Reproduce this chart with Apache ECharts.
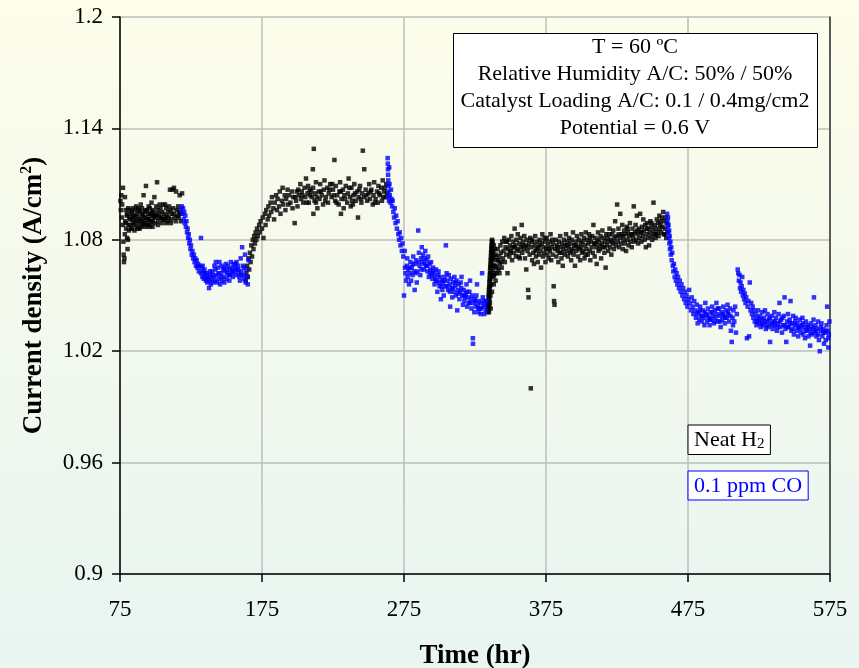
<!DOCTYPE html>
<html><head><meta charset="utf-8">
<script src="https://cdn.jsdelivr.net/npm/echarts@6/dist/echarts.min.js"></script>
<style>html,body{margin:0;padding:0;background:#fff}#chart{width:859px;height:668px}</style>
</head><body><div id="chart"></div>
<script>
// ---- DATA: [time (hr), current density (A/cm2)] ----
const h2Run1 = [[75.3,1.101],[75.6,1.096],[75.9,1.104],[76.2,1.092],[76.5,1.099],[76.8,1.088],[77.1,1.108],[77.4,1.079],[77.6,1.072],[77.8,1.068],[78.1,1.070],[78.4,1.083],[78.5,1.103],[78.7,1.090],[79.0,1.096],[79.3,1.086],[79.7,1.093],[80.0,1.081],[80.3,1.075],[80.6,1.080],[80.8,1.097],[81.2,1.085],[81.6,1.092],[82.0,1.096],[82.4,1.088],[82.8,1.094],[83.2,1.086],[83.6,1.091],[84.0,1.097],[84.4,1.089],[84.8,1.093],[85.2,1.085],[85.6,1.096],[86.0,1.090],[86.4,1.098],[86.8,1.087],[87.2,1.094],[87.6,1.097],[88.0,1.089],[88.4,1.092],[88.8,1.086],[89.2,1.095],[89.6,1.099],[90.0,1.091],[90.4,1.097],[90.8,1.088],[91.2,1.093],[91.6,1.104],[92.0,1.090],[92.4,1.095],[92.8,1.087],[93.3,1.109],[93.6,1.092],[94.0,1.096],[94.4,1.089],[94.8,1.094],[95.2,1.098],[95.6,1.091],[96.0,1.097],[96.4,1.088],[96.8,1.093],[97.2,1.100],[97.6,1.095],[98.0,1.090],[98.4,1.096],[98.8,1.092],[99.2,1.103],[99.6,1.094],[101.1,1.111],[100.5,1.098],[101.0,1.093],[101.5,1.096],[102.0,1.090],[102.5,1.094],[103.0,1.099],[103.5,1.097],[104.0,1.092],[104.5,1.095],[105.0,1.091],[105.5,1.099],[106.0,1.094],[106.7,1.099],[107.0,1.092],[107.5,1.097],[108.0,1.093],[108.5,1.090],[109.0,1.095],[109.5,1.098],[110.2,1.107],[110.5,1.096],[111.0,1.091],[111.5,1.094],[112.0,1.107],[112.5,1.097],[113.0,1.108],[113.5,1.092],[114.5,1.106],[115.0,1.096],[115.5,1.093],[116.0,1.098],[116.5,1.095],[117.0,1.104],[117.5,1.094],[118.7,1.105],
  [79.2,1.089],[80.1,1.094],[81.0,1.088],[81.9,1.091],[82.7,1.086],[83.5,1.095],[84.3,1.092],[85.0,1.088],[85.9,1.093],[86.7,1.091],[87.5,1.086],[88.2,1.096],[89.0,1.090],[89.9,1.087],[90.7,1.094],[91.5,1.089],[92.2,1.092],[93.0,1.096],[93.9,1.088],[94.7,1.091],[95.5,1.087],[96.3,1.094],[97.0,1.090],[97.9,1.087],[98.6,1.093],[99.4,1.089],[100.2,1.092],[101.7,1.088],[103.2,1.092],[104.8,1.089],[106.3,1.091],[107.8,1.089],[109.3,1.092],[110.8,1.089],[112.8,1.094],[114.2,1.090],[116.3,1.092],[117.8,1.090]];

const coRun1 = [[118.0,1.096],[118.5,1.098],[119.0,1.094],[119.4,1.097],[119.8,1.091],[120.2,1.095],[120.6,1.089],[121.0,1.093],[121.4,1.087],[121.8,1.090],[122.2,1.084],[122.6,1.086],[123.0,1.081],[123.4,1.083],[123.8,1.078],[124.2,1.080],[124.6,1.075],[125.0,1.077],[125.5,1.072],[126.0,1.074],[126.5,1.070],[127.0,1.072],[127.5,1.068],[128.0,1.070],[128.5,1.066],[129.0,1.069],[129.5,1.065],[130.0,1.067],[130.5,1.063],[131.0,1.066],[132.0,1.081],[132.0,1.062],[132.5,1.065],[133.0,1.060],[133.5,1.063],[134.0,1.059],[134.5,1.064],[135.0,1.061],[135.5,1.058],[136.0,1.062],[136.5,1.057],[137.0,1.060],[137.7,1.054],[138.0,1.058],[138.5,1.061],[139.0,1.056],[139.5,1.059],[140.0,1.063],[140.5,1.057],[141.0,1.060],[141.5,1.066],[142.0,1.058],[142.5,1.068],[143.0,1.061],[143.5,1.057],[144.0,1.065],[144.5,1.059],[145.0,1.068],[145.5,1.056],[146.0,1.062],[146.5,1.066],[147.0,1.058],[147.5,1.064],[148.0,1.060],[148.5,1.057],[149.0,1.063],[149.5,1.067],[150.0,1.059],[150.5,1.062],[151.0,1.066],[151.5,1.061],[152.0,1.058],[152.5,1.064],[153.0,1.068],[153.5,1.062],[154.0,1.065],[154.5,1.060],[155.0,1.067],[155.5,1.063],[156.0,1.065],[156.5,1.061],[157.0,1.068],[157.5,1.064],[158.0,1.066],[158.5,1.062],[159.0,1.060],[159.5,1.058],[160.0,1.070],[160.5,1.063],[161.0,1.076],[161.5,1.066],[162.0,1.061],[162.5,1.059],[163.0,1.072],[163.5,1.057],[164.0,1.064],[164.5,1.060],[165.0,1.056],[165.5,1.069],
  [133.2,1.066],[134.8,1.062],[136.3,1.059],[138.3,1.063],[140.3,1.061],[142.2,1.064],[144.3,1.062],[146.3,1.060],[148.3,1.065],[150.3,1.064],[152.3,1.061],[154.3,1.063],[156.3,1.067],[158.3,1.064],[160.3,1.061],[162.3,1.065]];

const h2Run2 = [[163.5,1.058],[164.0,1.062],[164.5,1.066],[165.0,1.060],[165.5,1.070],[166.0,1.064],[166.5,1.073],[167.0,1.068],[167.5,1.077],[168.0,1.071],[168.5,1.080],[169.0,1.075],[169.5,1.082],[170.0,1.078],[170.5,1.084],[171.0,1.080],[171.5,1.086],[172.0,1.082],[173.0,1.088],[173.5,1.084],[174.0,1.090],[175.0,1.086],[175.5,1.092],[176.0,1.081],[177.0,1.094],[177.5,1.088],[178.0,1.096],[179.0,1.091],[179.5,1.098],[180.0,1.093],[181.0,1.100],[181.5,1.095],[182.0,1.103],[183.0,1.097],[183.5,1.091],[184.0,1.100],[185.0,1.104],[185.5,1.096],[186.0,1.102],[187.0,1.098],[187.5,1.106],[188.0,1.094],[189.0,1.101],[189.5,1.108],[190.0,1.099],[191.0,1.104],[191.5,1.096],[192.0,1.102],[193.0,1.107],[193.5,1.099],[194.0,1.104],[195.0,1.100],[196.0,1.106],[196.5,1.097],[197.0,1.103],[198.0,1.089],[199.0,1.101],[199.5,1.106],[200.0,1.098],[201.0,1.104],[202.0,1.110],[202.5,1.102],[203.0,1.106],[204.0,1.100],[205.0,1.108],[205.5,1.103],[206.0,1.113],[207.0,1.105],[208.0,1.100],[208.5,1.107],[209.0,1.104],[210.0,1.103],[210.8,1.118],[211.5,1.129],[211.0,1.108],[211.2,1.094],[212.0,1.101],[212.5,1.105],[213.0,1.111],[214.0,1.097],[215.0,1.106],[215.5,1.102],[216.0,1.110],[217.0,1.104],[218.0,1.099],[218.5,1.107],[219.0,1.112],[220.0,1.103],[221.0,1.108],[221.5,1.100],[222.0,1.105],[223.0,1.110],[224.0,1.103],[225.0,1.107],[226.0,1.123],[226.5,1.101],[227.0,1.109],[228.0,1.104],[229.0,1.099],[229.5,1.106],[230.0,1.111],[230.6,1.094],[231.0,1.102],[232.0,1.107],[232.5,1.097],[233.0,1.104],[234.0,1.109],[235.0,1.100],[235.5,1.105],[236.0,1.113],[237.0,1.103],[238.0,1.108],[239.0,1.099],[239.5,1.104],[240.0,1.110],[241.0,1.101],[242.0,1.106],[242.6,1.092],[243.0,1.103],[244.0,1.109],[245.0,1.100],[245.5,1.105],[246.0,1.128],[247.0,1.103],[247.0,1.118],[248.0,1.107],[249.0,1.101],[250.0,1.105],[250.5,1.110],[251.0,1.102],[252.0,1.107],[253.0,1.099],[253.5,1.104],[254.0,1.111],[255.0,1.102],[256.0,1.106],[256.5,1.100],[257.0,1.109],[258.0,1.104],[259.0,1.108],[259.5,1.101],[260.0,1.112],[261.0,1.106],[262.0,1.103],[262.5,1.110],[263.0,1.105],
  [198.5,1.103],[200.5,1.107],[203.5,1.104],[206.5,1.100],[209.5,1.106],[213.5,1.103],[216.5,1.106],[219.5,1.101],[222.5,1.107],[225.5,1.104],[227.5,1.100],[230.5,1.106],[233.5,1.102],[236.5,1.108],[238.5,1.101],[240.5,1.105],[243.5,1.107],[244.5,1.102],[248.5,1.104],[251.5,1.106],[254.5,1.100],[257.5,1.105],[260.5,1.103],[261.5,1.108],[207.5,1.109],[213.0,1.100],[224.5,1.110],[237.5,1.098]];

const coRun2 = [[263.5,1.124],[263.6,1.121],[263.7,1.118],[263.8,1.115],[263.9,1.112],[264.0,1.109],[264.1,1.106],[264.2,1.103],[264.4,1.101],[264.6,1.119],[264.8,1.110],[265.0,1.104],[265.5,1.100],[265.8,1.107],[266.2,1.102],[266.6,1.098],[267.0,1.101],[267.5,1.095],[268.0,1.092],[268.5,1.097],[269.0,1.089],[269.5,1.093],[270.0,1.086],[270.5,1.090],[271.0,1.083],[271.5,1.080],[272.0,1.084],[272.5,1.077],[273.0,1.081],[273.5,1.074],[274.0,1.078],[274.5,1.071],[275.0,1.050],[275.5,1.074],[275.7,1.065],[276.0,1.062],[276.5,1.058],[277.0,1.066],[277.5,1.060],[278.0,1.064],[278.5,1.056],[279.0,1.062],[279.5,1.068],[280.0,1.058],[280.5,1.065],[281.0,1.061],[281.5,1.071],[282.0,1.063],[282.5,1.053],[283.0,1.067],[283.5,1.069],[284.0,1.057],[284.5,1.063],[285.0,1.085],[285.5,1.073],[286.0,1.066],[286.5,1.061],[287.0,1.070],[287.5,1.076],[288.0,1.068],[288.5,1.072],[289.0,1.064],[289.5,1.070],[290.0,1.074],[290.5,1.066],[291.0,1.069],[291.5,1.063],[292.0,1.071],[292.5,1.060],[293.0,1.067],[293.5,1.064],[294.0,1.068],[294.5,1.061],[295.0,1.059],[295.5,1.065],[296.0,1.062],[296.5,1.056],[297.0,1.060],[297.5,1.064],[298.0,1.058],[298.5,1.052],[299.0,1.061],[299.5,1.057],[300.0,1.055],[300.5,1.060],[301.0,1.048],[301.5,1.058],[302.0,1.053],[302.5,1.057],[303.0,1.050],[303.5,1.060],[304.0,1.055],[304.5,1.077],[305.0,1.062],[305.5,1.058],[306.0,1.053],[306.5,1.061],[307.0,1.056],[307.5,1.044],[308.0,1.059],[308.5,1.054],[309.0,1.049],[309.5,1.057],[310.0,1.052],[310.5,1.060],[311.0,1.055],[311.5,1.050],[312.0,1.058],[312.5,1.042],[313.0,1.053],[313.5,1.056],[314.0,1.048],[314.5,1.052],[315.0,1.057],[315.5,1.060],[316.0,1.050],[316.5,1.045],[317.0,1.053],[317.5,1.047],[318.0,1.049],[318.5,1.051],[319.0,1.056],[319.5,1.044],[320.0,1.049],[320.5,1.046],[321.0,1.052],[321.5,1.058],[322.0,1.048],[322.5,1.043],[323.0,1.050],[323.5,1.027],[323.6,1.024],[324.0,1.046],[324.5,1.041],[325.0,1.048],[325.5,1.044],[326.0,1.050],[326.4,1.056],[327.0,1.045],[327.5,1.041],[328.0,1.047],[328.5,1.043],[329.0,1.040],[329.5,1.046],[330.0,1.062],[330.5,1.049],[331.0,1.044],[331.5,1.040],[332.0,1.045],[332.5,1.042],[333.0,1.047],
  [277.3,1.070],[279.3,1.065],[281.3,1.067],[283.3,1.062],[285.3,1.068],[287.3,1.064],[289.3,1.067],[291.3,1.066],[293.3,1.062],[295.3,1.063],[297.3,1.058],[299.3,1.063],[301.3,1.055],[303.3,1.058],[305.3,1.055],[307.3,1.052],[309.3,1.054],[311.3,1.057],[313.3,1.051],[315.3,1.054],[317.3,1.050],[319.3,1.052],[321.3,1.046],[325.3,1.047],[327.3,1.043],[329.3,1.043],[331.3,1.047]];

const h2Run3 = [[333.8,1.041],[334.0,1.043],[334.1,1.045],[334.3,1.044],[334.4,1.047],[334.5,1.049],[334.6,1.046],[334.7,1.051],[334.8,1.053],[334.9,1.050],[335.0,1.055],[335.1,1.057],[335.2,1.054],[335.3,1.059],[335.4,1.061],[335.5,1.058],[335.6,1.063],[335.7,1.065],[335.8,1.062],[335.9,1.067],[336.0,1.069],[336.1,1.066],[336.2,1.071],[336.3,1.073],[336.4,1.070],[336.5,1.075],[336.6,1.077],[336.7,1.074],[336.8,1.079],[336.9,1.076],[337.0,1.080],[337.2,1.078],[337.4,1.073],[337.6,1.069],[337.8,1.064],[338.0,1.060],[338.2,1.056],[338.4,1.061],[338.6,1.066],[338.8,1.071],[339.0,1.075],
  [334.8,1.041],[335.0,1.044],[335.2,1.048],[335.4,1.052],[335.6,1.055],[335.8,1.059],[336.0,1.062],[336.2,1.065],[336.4,1.068],[336.6,1.071],[336.8,1.073],[337.0,1.076],[337.3,1.079],[335.5,1.046],[335.9,1.050],[336.3,1.056],[336.7,1.061],[337.1,1.066],[337.5,1.070],[337.9,1.074],[338.3,1.077],[334.5,1.042],[336.0,1.043],[337.0,1.052],[338.0,1.066],[338.8,1.062],[339.5,1.058],[340.5,1.065],[341.3,1.069],[342.2,1.062],[343.5,1.068],
  [339.4,1.066],[339.8,1.072],[340.2,1.062],[340.6,1.069],[341.0,1.075],[341.5,1.064],[342.0,1.071],[342.4,1.067],[342.9,1.077],[343.3,1.073],[343.8,1.065],[344.2,1.079],[344.7,1.070],[345.1,1.074],[345.6,1.081],[346.0,1.068],[346.5,1.076],[347.0,1.072],[347.4,1.079],[347.9,1.062],[348.3,1.075],[348.8,1.080],[349.2,1.071],[349.7,1.077],[350.1,1.074],[350.6,1.082],[351.1,1.069],[351.5,1.076],[352.0,1.079],[352.4,1.073],[352.9,1.086],[353.3,1.077],[353.8,1.071],[354.2,1.080],[354.7,1.075],[355.1,1.083],[355.6,1.074],[356.1,1.078],[356.5,1.070],[357.0,1.081],[357.4,1.076],[357.9,1.088],[358.3,1.073],[358.8,1.079],[359.2,1.075],[359.7,1.082],[360.2,1.070],[360.6,1.077],[361.1,1.064],[361.5,1.080],[362.0,1.074],[362.4,1.053],[362.7,1.049],[363.0,1.078],[363.5,1.072],[363.9,1.081],[364.3,1.000],[364.7,1.076],[365.2,1.069],[365.6,1.079],[366.1,1.073],[366.5,1.067],[367.0,1.077],[367.4,1.082],[367.9,1.071],[368.3,1.075],[368.8,1.079],[369.2,1.068],[369.7,1.076],[370.1,1.072],[370.6,1.080],[371.0,1.074],[371.5,1.065],[371.9,1.078],[372.4,1.083],[372.8,1.071],[373.3,1.076],[373.7,1.073],[374.2,1.079],[374.6,1.068],[375.1,1.075],[375.5,1.081],[376.0,1.072],[376.4,1.077],[376.9,1.070],[377.3,1.079],[377.8,1.074],[378.2,1.083],[378.7,1.069],[379.1,1.076],[379.6,1.072],[380.0,1.078],[380.4,1.055],[380.7,1.047],[381.0,1.045],[381.4,1.075],[381.9,1.080],[382.3,1.071],[382.8,1.077],[383.2,1.074],[383.7,1.068],[384.1,1.079],[384.6,1.073],[385.0,1.082],[385.5,1.076],[385.9,1.070],[386.4,1.078],[386.8,1.066],[387.3,1.075],[387.7,1.080],[388.2,1.072],[388.6,1.077],[389.1,1.083],[389.5,1.074],[390.0,1.079],[390.4,1.071],[390.9,1.076],[391.3,1.081],[391.8,1.073],[392.2,1.078],[392.7,1.069],[393.1,1.080],[393.6,1.075],[394.0,1.084],[394.5,1.072],[394.9,1.077],[395.4,1.066],[395.8,1.079],[396.3,1.074],[396.7,1.082],[397.2,1.076],[397.6,1.071],[398.1,1.080],[398.5,1.075],[399.0,1.069],[399.4,1.078],[399.9,1.083],[400.3,1.073],[400.8,1.079],[401.2,1.074],[401.7,1.081],[402.1,1.070],[402.6,1.077],[403.0,1.084],[403.5,1.075],[403.9,1.080],[404.4,1.072],[404.8,1.078],[405.3,1.083],[405.7,1.074],[406.2,1.069],[406.6,1.079],[407.1,1.076],[407.5,1.082],[408.0,1.073],[408.4,1.088],[408.9,1.078],[409.3,1.071],[409.8,1.081],[410.2,1.076],[410.7,1.067],[411.1,1.079],[411.6,1.084],[412.0,1.074],[412.5,1.080],[412.9,1.075],[413.4,1.082],[413.8,1.070],[414.3,1.078],[414.7,1.085],[415.2,1.076],[415.6,1.081],[416.1,1.073],[416.5,1.079],[417.0,1.065],[417.4,1.083],[417.9,1.077],[418.3,1.081],[418.8,1.074],[419.2,1.079],[419.7,1.086],[420.1,1.076],[420.6,1.080],[421.0,1.072],[421.5,1.083],[421.9,1.078],[422.4,1.085],[422.8,1.075],[423.3,1.081],[423.7,1.090],[424.2,1.077],[424.6,1.082],[425.1,1.099],[425.5,1.079],[426.0,1.086],[426.4,1.076],[426.9,1.081],[427.3,1.094],[427.8,1.078],[428.2,1.083],[428.7,1.088],[429.1,1.075],[429.6,1.080],[430.0,1.085],[430.5,1.078],[430.9,1.083],[431.4,1.074],[431.8,1.087],[432.3,1.080],[432.7,1.084],[433.2,1.077],[433.6,1.082],[434.1,1.089],[434.5,1.079],[435.0,1.083],[435.4,1.076],[435.9,1.086],[436.3,1.081],[436.8,1.098],[437.2,1.079],[437.7,1.084],[438.1,1.088],[438.6,1.080],[439.0,1.093],[439.5,1.083],[439.9,1.078],[440.4,1.086],[440.8,1.081],[441.3,1.094],[441.7,1.084],[442.2,1.079],[442.6,1.087],[443.1,1.082],[443.5,1.091],[444.0,1.085],[444.4,1.080],[444.9,1.088],[445.3,1.076],[445.8,1.083],[446.2,1.089],[446.7,1.081],[447.1,1.086],[447.6,1.077],[448.0,1.084],[448.5,1.090],[448.9,1.082],[449.4,1.087],[449.8,1.080],[450.3,1.085],[450.7,1.100],[451.2,1.083],[451.6,1.088],[452.1,1.081],[452.5,1.086],[453.0,1.091],[453.4,1.084],[453.9,1.089],[454.3,1.082],[454.8,1.093],[455.2,1.086],[455.7,1.090],[456.1,1.084],[456.6,1.092],[457.0,1.087],[457.5,1.095],[457.9,1.083],[458.4,1.090],[458.8,1.086],[459.3,1.092],[459.7,1.081],[460.1,1.089],[460.5,1.084],
  [346.8,1.079],[349.8,1.073],[352.6,1.076],[355.9,1.071],[358.6,1.077],[361.8,1.076],[364.9,1.080],[367.7,1.074],[370.4,1.077],[373.9,1.081],[376.7,1.075],[379.4,1.080],[383.0,1.076],[386.1,1.073],[389.8,1.077],[392.9,1.074],[396.0,1.077],[399.7,1.076],[402.9,1.072],[406.0,1.081],[409.6,1.078],[412.7,1.077],[416.3,1.076],[419.5,1.083],[422.6,1.079],[426.2,1.083],[429.4,1.082],[432.5,1.086],[436.1,1.083],[439.3,1.085],[442.4,1.084],[446.0,1.086],[449.2,1.089],[452.3,1.083],[455.5,1.088],[458.6,1.083]];

const coRun3 = [[460.3,1.094],[460.5,1.090],[460.7,1.087],[460.9,1.092],[461.1,1.084],[461.3,1.088],[461.5,1.081],[461.7,1.085],[461.9,1.078],[462.1,1.082],[462.3,1.075],[462.6,1.079],[462.9,1.072],[463.2,1.076],[463.5,1.069],[463.9,1.073],[464.3,1.066],[464.7,1.063],[465.1,1.067],[465.6,1.060],[466.0,1.064],[466.5,1.058],[467.0,1.062],[467.5,1.056],[468.0,1.060],[468.6,1.054],[469.2,1.058],[469.8,1.052],[470.4,1.056],[471.0,1.050],[471.6,1.054],[472.2,1.048],[472.8,1.052],[473.4,1.046],[474.0,1.050],[474.6,1.044],[475.2,1.048],[475.8,1.053],[476.4,1.046],[477.0,1.042],[477.6,1.049],[478.2,1.044],[478.8,1.040],[479.4,1.047],[480.0,1.042],[480.6,1.038],[481.2,1.045],[481.8,1.035],[482.4,1.041],[483.0,1.037],[483.6,1.044],[484.2,1.039],[484.8,1.036],[485.4,1.042],[486.0,1.038],[486.6,1.034],[487.2,1.046],[487.8,1.040],[488.4,1.036],[489.0,1.043],[489.6,1.038],[490.2,1.034],[490.8,1.041],[491.4,1.037],[492.0,1.044],[492.6,1.039],[493.2,1.035],[493.8,1.042],[494.4,1.038],[495.0,1.046],[495.6,1.040],[496.2,1.036],[496.8,1.043],[497.4,1.039],[498.0,1.033],[498.6,1.041],[499.2,1.037],[499.8,1.044],[500.4,1.039],[501.0,1.035],[501.6,1.042],[502.2,1.038],[502.8,1.045],[503.4,1.040],[504.0,1.036],[504.6,1.043],[505.2,1.031],[505.8,1.025],[506.4,1.038],[507.0,1.042],[507.6,1.036],[508.2,1.044],[508.8,1.030],[509.4,1.040],[510.0,1.064],[510.4,1.062],[510.8,1.058],[511.2,1.061],[511.6,1.054],[512.0,1.057],[512.4,1.052],[512.8,1.055],[513.2,1.060],[513.6,1.050],[514.0,1.053],[514.5,1.048],[515.0,1.051],[515.5,1.046],[516.0,1.049],[516.5,1.027],[517.0,1.044],[517.5,1.047],[518.0,1.028],[518.5,1.057],[519.0,1.042],[519.5,1.046],[520.0,1.040],[520.5,1.044],[521.0,1.038],[521.5,1.042],[522.0,1.036],[522.6,1.040],[523.2,1.034],[523.8,1.038],[524.4,1.042],[525.0,1.035],[525.6,1.039],[526.2,1.033],[526.8,1.037],[527.4,1.041],[528.0,1.034],[528.6,1.038],[529.2,1.042],[529.8,1.032],[530.4,1.036],[531.0,1.040],[531.6,1.033],[532.2,1.037],[532.8,1.025],[533.4,1.035],[534.0,1.039],[534.6,1.032],[535.2,1.036],[535.8,1.041],[536.4,1.034],[537.0,1.038],[537.6,1.031],[538.2,1.035],[538.8,1.040],[539.4,1.046],[540.0,1.033],[540.6,1.037],[541.2,1.030],[541.8,1.034],[542.4,1.039],[543.0,1.049],[543.6,1.032],[544.2,1.025],[544.8,1.036],[545.4,1.040],[546.0,1.033],[546.6,1.037],[547.2,1.047],[547.8,1.031],[548.4,1.035],[549.0,1.039],[549.6,1.029],[550.2,1.034],[550.8,1.038],[551.4,1.031],[552.0,1.035],[552.6,1.028],[553.2,1.033],[553.8,1.037],[554.4,1.030],[555.0,1.034],[555.6,1.038],[556.2,1.029],[556.8,1.033],[557.4,1.027],[558.0,1.036],[558.6,1.031],[559.2,1.034],[559.8,1.028],[560.4,1.032],[561.0,1.023],[561.6,1.035],[562.2,1.029],[562.8,1.033],[563.4,1.037],[563.7,1.049],[564.2,1.030],[564.8,1.034],[565.4,1.028],[566.0,1.032],[566.6,1.036],[567.2,1.026],[567.8,1.020],[568.4,1.031],[569.0,1.035],[569.6,1.028],[570.2,1.032],[570.8,1.024],[571.4,1.030],[572.0,1.026],[572.6,1.034],[573.0,1.044],[573.4,1.031],[573.8,1.022],[574.2,1.029],[574.6,1.036],
  [481.5,1.040],[483.3,1.042],[485.1,1.039],[486.9,1.041],[488.7,1.039],[490.5,1.037],[492.3,1.041],[494.1,1.036],[495.9,1.043],[497.7,1.036],[499.5,1.040],[501.3,1.038],[503.1,1.041],[504.9,1.039],[506.7,1.034],[523.5,1.036],[525.3,1.037],[527.1,1.035],[528.9,1.036],[530.7,1.034],[532.5,1.038],[534.3,1.034],[536.1,1.036],[537.9,1.033],[539.7,1.036],[541.5,1.038],[543.3,1.034],[545.1,1.033],[546.9,1.035],[548.7,1.032],[550.5,1.036],[552.3,1.033],[554.1,1.032],[555.9,1.035],[557.7,1.031],[559.5,1.033],[561.3,1.030],[563.1,1.032],[564.9,1.031],[566.7,1.029],[568.5,1.033],[570.3,1.030],[572.1,1.031],[573.9,1.027]];

const seriesNames = ['Neat H2', '0.1 ppm CO'];
const infoLines = ['T = 60 ºC', 'Relative Humidity A/C: 50% / 50%', 'Catalyst Loading A/C: 0.1 / 0.4mg/cm2', 'Potential = 0.6 V'];

// ---- CHART ----
const serif = "'Liberation Serif','Times New Roman',serif";
const chart = echarts.init(document.getElementById('chart'), null, {renderer: 'canvas'});
const infoText = infoLines.join('\n');

const option = {
  animation: false,
  backgroundColor: {type: 'linear', x: 0, y: 0, x2: 0, y2: 1,
    colorStops: [{offset: 0, color: '#FDFDEA'}, {offset: 1, color: '#E8F5F1'}]},
  grid: {left: 120, right: 29, top: 17, bottom: 94, containLabel: false, outerBoundsMode: 'none'},
  xAxis: {
    type: 'value', min: 75, max: 575, interval: 100,
    name: 'Time (hr)', nameLocation: 'middle', nameGap: 69,
    nameTextStyle: {fontFamily: serif, fontWeight: 'bold', fontSize: 27, color: '#000'},
    axisLine: {show: true, onZero: false, lineStyle: {color: '#000', width: 1.5}},
    axisTick: {show: true, length: 8, lineStyle: {color: '#000', width: 1.5}},
    axisLabel: {margin: 24, fontFamily: serif, fontSize: 23, color: '#000'},
    splitLine: {show: true, lineStyle: {color: '#BEBEBE', width: 1.5}}
  },
  yAxis: [{
    type: 'value', min: 0.9, max: 1.2, interval: 0.06,
    name: 'Current density (A/cm{sup|2})', nameLocation: 'middle', nameGap: 71,
    nameTextStyle: {fontFamily: serif, fontWeight: 'bold', fontSize: 27, color: '#000',
      rich: {sup: {fontFamily: serif, fontWeight: 'bold', fontSize: 16, color: '#000', verticalAlign: 'top', lineHeight: 30}}},
    axisLine: {show: true, onZero: false, lineStyle: {color: '#000', width: 1.5}},
    axisTick: {show: true, length: 8, lineStyle: {color: '#000', width: 1.5}},
    axisLabel: {margin: 17, fontFamily: serif, fontSize: 23, color: '#000'},
    splitLine: {show: true, lineStyle: {color: '#BEBEBE', width: 1.5}}
  }, {
    type: 'value', min: 0.9, max: 1.2, position: 'right',
    axisLine: {show: true, lineStyle: {color: '#333', width: 1.5}},
    axisTick: {show: false}, axisLabel: {show: false}, splitLine: {show: false}
  }],
  legend: [{
    data: [seriesNames[0]], left: 688, top: 425, orient: 'vertical',
    icon: 'none', itemWidth: 0, itemHeight: 0, itemGap: 0,
    padding: [4, 6, 3, 1], backgroundColor: '#fff', borderColor: '#000', borderWidth: 1,
    selectedMode: false,
    formatter: () => '{a|Neat H}{s|2}',
    textStyle: {fontFamily: serif, fontSize: 22, color: '#000',
      rich: {a: {fontFamily: serif, fontSize: 22, color: '#000'},
             s: {fontFamily: serif, fontSize: 15, color: '#000', verticalAlign: 'bottom', padding: [8, 0, 0, 0]}}}
  }, {
    data: [seriesNames[1]], left: 688, top: 471, orient: 'vertical',
    icon: 'none', itemWidth: 0, itemHeight: 0, itemGap: 0,
    padding: [4, 6, 3, 1], backgroundColor: '#fff', borderColor: '#0000FF', borderWidth: 1,
    selectedMode: false,
    textStyle: {fontFamily: serif, fontSize: 22, color: '#0000FF'}
  }],
  graphic: [{
    type: 'rect', left: 453, top: 33, z: 10,
    shape: {width: 364, height: 114},
    style: {fill: '#fff', stroke: '#000', lineWidth: 1}
  }, {
    type: 'text', x: 635, y: 34, z: 11,
    style: {text: infoText, font: "22px 'Liberation Serif', serif", fill: '#000',
      align: 'center', verticalAlign: 'top', lineHeight: 27}
  }],
  series: [{
    name: seriesNames[0], type: 'scatter', symbol: 'rect', symbolSize: 4.5,
    itemStyle: {color: '#000000'},
    data: [].concat(h2Run1, h2Run2, h2Run3)
  }, {
    name: seriesNames[1], type: 'scatter', symbol: 'rect', symbolSize: 4.5,
    itemStyle: {color: '#0000FF'},
    data: [].concat(coRun1, coRun2, coRun3)
  }]
};
chart.setOption(option);
</script>
</body></html>
